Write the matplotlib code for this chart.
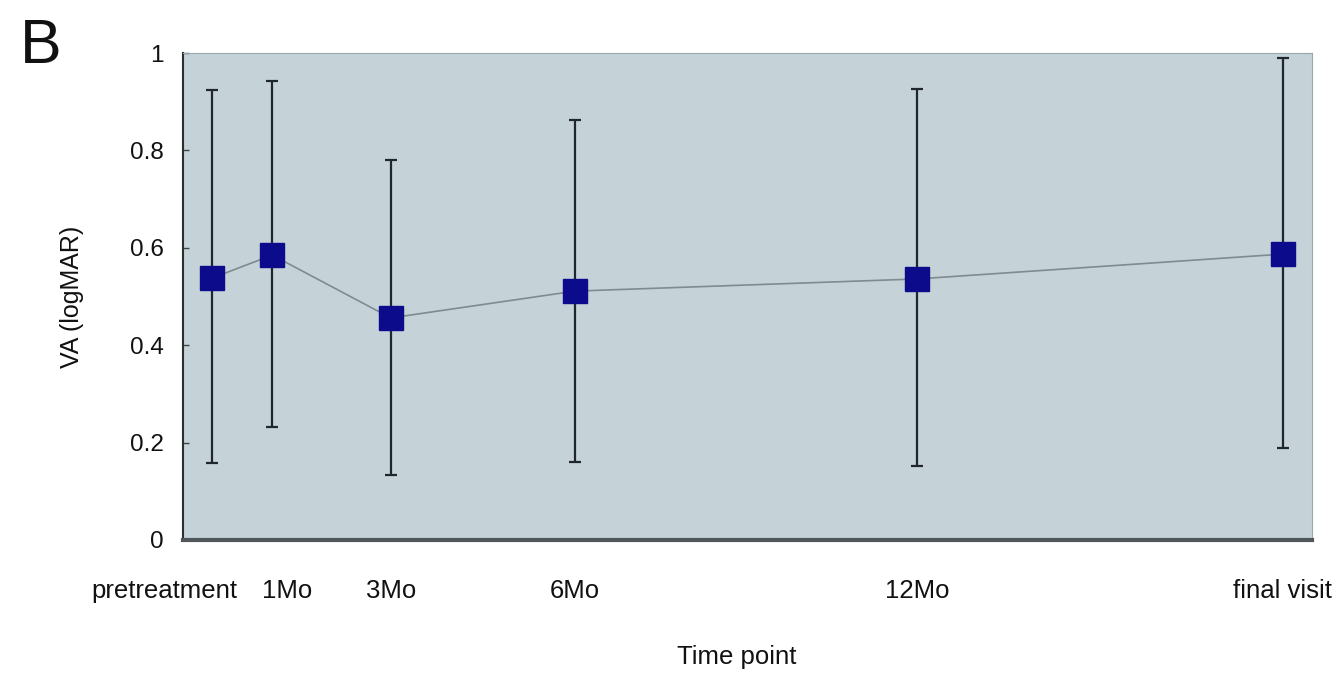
import matplotlib
matplotlib.use('Agg')
from matplotlib import pyplot as plt

# data
labels = ['pretreatment', '1Mo', '3Mo', '6Mo', '12Mo', 'final visit']
xpos = [0.026, 0.079, 0.184, 0.347, 0.650, 0.974]   # positions along the time axis
va_mean = [0.538, 0.585, 0.456, 0.511, 0.536, 0.587]
va_upper = [0.924, 0.943, 0.780, 0.862, 0.926, 0.990]
va_lower = [0.158, 0.232, 0.133, 0.160, 0.152, 0.189]
label_shift = [-0.043, 0.013, 0, 0, 0, 0]   # labels nudged apart where they would collide

err_lo = [m - l for m, l in zip(va_mean, va_lower)]
err_hi = [u - m for m, u in zip(va_mean, va_upper)]

plt.rcParams['font.family'] = ['Liberation Sans', 'DejaVu Sans']

fig = plt.figure(figsize=(13.42, 6.77), dpi=100, facecolor='white')
ax = fig.add_axes([0.1364, 0.2024, 0.8412, 0.7193], facecolor='#c5d2d8')

ax.errorbar(xpos, va_mean, yerr=[err_lo, err_hi], fmt='none', ecolor='#1f272c',
            elinewidth=1.6, capsize=4.3, capthick=1.6, zorder=2)
ax.plot(xpos, va_mean, color='#7f8b8e', linewidth=1.2, zorder=3)
ax.plot(xpos, va_mean, linestyle='none', marker='s', markersize=17,
        markerfacecolor='#0b0b8c', markeredgecolor='#0b0b8c', zorder=4)

ax.set_xlim(0, 1)
ax.set_ylim(0, 1)
ax.set_yticks([0, 0.2, 0.4, 0.6, 0.8, 1.0])
ax.set_yticklabels(['0', '0.2', '0.4', '0.6', '0.8', '1'])
ax.set_xticks([])
ax.tick_params(axis='y', length=4, width=1, direction='in', pad=14, labelsize=17.5,
               color='#444444', labelcolor='#111111')

for x, s, lab in zip(xpos, label_shift, labels):
    ax.text(x + s, -0.105, lab, transform=ax.get_xaxis_transform(), ha='center', va='center',
            fontsize=18.5, color='#111111')

ax.spines['left'].set_color('#2a2f31')
ax.spines['left'].set_linewidth(1.5)
ax.spines['bottom'].set_color('#50575a')
ax.spines['bottom'].set_linewidth(3)
ax.spines['top'].set_color('#9aa6ab')
ax.spines['right'].set_color('#9aa6ab')

ax.set_ylabel('VA (logMAR)', fontsize=18, color='#111111')
ax.yaxis.set_label_coords(-0.088, 0.5)
ax.set_xlabel('Time point', fontsize=18.5, color='#111111')
ax.xaxis.set_label_coords(0.49, -0.215)

fig.text(0.015, 1 - 17 / 677, 'B', fontsize=45, va='top', color='#111111')

fig.savefig('out.png', dpi=100)
